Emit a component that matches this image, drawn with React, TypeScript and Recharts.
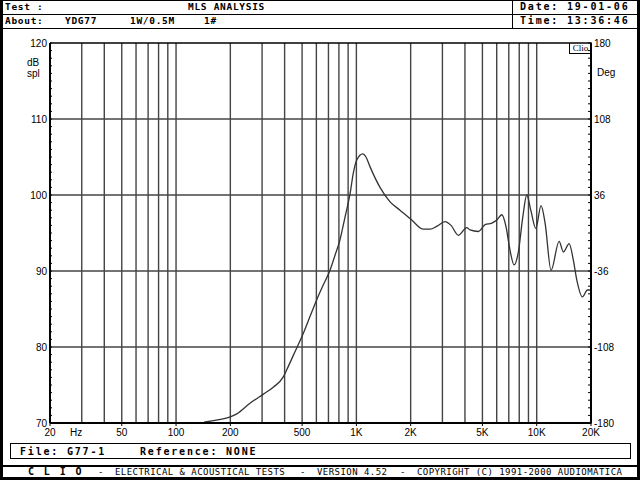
import React from 'react';
import { LineChart, Line, XAxis, YAxis, ReferenceLine } from 'recharts';

// response (Hz / dB spl)
const freqs = [
  143, 170, 200, 217, 257, 305, 346, 394, 411, 447, 508, 553, 602, 656, 714, 762, 811, 865, 923, 962,
  1005, 1085, 1130, 1191, 1352, 1538, 1746, 2028, 2351, 2564, 2800, 3104, 3350, 3680, 4094, 4268, 4751,
  5175, 5636, 6010, 6400, 6762, 7054, 7494, 7910, 8370, 8810, 9270, 9880, 10570, 11130, 12010, 13310,
  14060, 15130, 15970, 16690, 17920, 19100, 20000,
];
const spl = [
  70.1, 70.4, 70.8, 71.2, 72.6, 73.8, 74.7, 76.1, 77.0, 78.9, 81.8, 84.0, 86.2, 88.2, 90.1, 92.1, 94.1, 97.1, 100.2, 102.9,
  104.6, 105.4, 105.0, 103.7, 101.0, 99.1, 98.0, 96.7, 95.5, 95.5, 95.9, 96.5, 96.0, 94.7, 95.7, 95.4, 95.2,
  96.1, 96.3, 96.7, 97.4, 95.8, 93.2, 90.8, 92.5, 97.1, 100.0, 98.0, 95.6, 98.6, 96.3, 90.1, 93.9,
  92.5, 93.6, 91.4, 88.8, 86.6, 87.5, 87.5,
];

const gridFreqs = [
  30, 40, 50, 60, 70, 80, 90, 100, 200, 300, 400, 500, 600, 700, 800, 900,
  1000, 2000, 3000, 4000, 5000, 6000, 7000, 8000, 9000, 10000,
];
const labelFreqs = [20, 50, 100, 200, 500, 1000, 2000, 5000, 10000, 20000];
const labelTexts = ['20', '50', '100', '200', '500', '1K', '2K', '5K', '10K', '20K'];

const dbLabels = [70, 80, 90, 100, 110, 120];
const dbGrid = [80, 90, 100, 110];
const degLabels = [-180, -108, -36, 36, 108, 180];

const data = freqs.map((f, i) => ({ f, spl: spl[i] }));
const xTicks = [20, ...gridFreqs, 20000];
const dbTicks = Array.from({ length: 51 }, (_, i) => 70 + i);
const degTicks = Array.from({ length: 51 }, (_, i) => -180 + i * 7.2);

const axisFont = '"Liberation Sans", Arial, sans-serif';
const mono = '"DejaVu Sans Mono", monospace';

const XTick = (props: any) => {
  const { x, y, payload } = props;
  const idx = labelFreqs.indexOf(payload.value);
  if (idx < 0) return null;
  return (
    <g>
      <line x1={x} x2={x} y1={y} y2={y + 3} stroke="#000" strokeWidth={1} />
      <text x={x} y={y + 13} textAnchor="middle" fontSize={10} fontFamily={axisFont} fill="#000">
        {labelTexts[idx]}
      </text>
    </g>
  );
};

const LeftTick = (props: any) => {
  const { x, y, payload } = props;
  const lab = dbLabels.includes(payload.value);
  return (
    <g>
      <line x1={x} x2={x + 2} y1={y} y2={y} stroke="#000" strokeWidth={1} />
      {lab && (
        <text x={x - 3} y={y} dy="0.35em" textAnchor="end" fontSize={10} fontFamily={axisFont} fill="#000">
          {payload.value}
        </text>
      )}
    </g>
  );
};

const RightTick = (props: any) => {
  const { x, y, payload } = props;
  const v = Math.round(payload.value * 10) / 10;
  const lab = degLabels.includes(v);
  return (
    <g>
      <line x1={x - 3} x2={x + 1} y1={y} y2={y} stroke="#000" strokeWidth={1} />
      {lab && (
        <text x={x + 3} y={y} dy="0.35em" textAnchor="start" fontSize={10} fontFamily={axisFont} fill="#000">
          {v}
        </text>
      )}
    </g>
  );
};

const T = ({ x, y, size = 10, bold = false, font = mono, ls = 0, children }: any) => (
  <div
    style={{
      position: 'absolute', left: x, top: y, transform: 'translateY(-50%)',
      fontSize: size, fontWeight: bold ? 'bold' : 'normal', fontFamily: font,
      letterSpacing: ls, lineHeight: 1, whiteSpace: 'pre', color: '#000',
    }}
  >
    {children}
  </div>
);

const hLine = (top: number, left = 0, width = 640, h = 1) => (
  <div style={{ position: 'absolute', left, top, width, height: h, background: '#000' }} />
);

export default function App() {
  return (
    <div style={{ position: 'absolute', left: 0, top: 0, width: 640, height: 480, background: '#fff', overflow: 'hidden' }}>
      <LineChart width={640} height={480} data={data} margin={{ top: 43, right: 9, bottom: 37, left: 10 }}>
        <XAxis
          dataKey="f"
          type="number"
          scale="log"
          domain={[20, 20000]}
          ticks={xTicks}
          interval={0}
          tick={<XTick />}
          tickLine={false}
          tickSize={0}
          tickMargin={0}
          height={20}
          axisLine={{ stroke: '#000', strokeWidth: 2 }}
          allowDataOverflow
        />
        <YAxis
          yAxisId="db"
          orientation="left"
          type="number"
          domain={[70, 120]}
          ticks={dbTicks}
          interval={0}
          tick={<LeftTick />}
          tickLine={false}
          tickSize={0}
          tickMargin={0}
          width={40}
          axisLine={{ stroke: '#000', strokeWidth: 2 }}
          allowDataOverflow
        />
        <YAxis
          yAxisId="deg"
          orientation="right"
          type="number"
          domain={[-180, 180]}
          ticks={degTicks}
          interval={0}
          tick={<RightTick />}
          tickLine={false}
          tickSize={0}
          tickMargin={0}
          width={40}
          axisLine={{ stroke: '#000', strokeWidth: 2 }}
          allowDataOverflow
        />
        {gridFreqs.map((f) => (
          <ReferenceLine key={'v' + f} x={f} yAxisId="db" stroke="#444" strokeWidth={1.4} />
        ))}
        {dbGrid.map((d) => (
          <ReferenceLine key={'h' + d} y={d} yAxisId="db" stroke="#444" strokeWidth={1.4} />
        ))}
        <ReferenceLine y={120} yAxisId="db" stroke="#000" strokeWidth={1.5} />
        <Line
          yAxisId="db"
          dataKey="spl"
          type="monotone"
          stroke="#333"
          strokeWidth={1.3}
          dot={false}
          isAnimationActive={false}
        />
      </LineChart>

      {/* header */}
      {hLine(0)}
      {hLine(14)}
      {hLine(28)}
      <div style={{ position: 'absolute', left: 512, top: 0, width: 1, height: 28, background: '#000' }} />
      <T x={5} y={7} size={9.5} bold ls={0.7}>Test :</T>
      <T x={188} y={7} size={9.5} bold ls={0.7}>MLS ANALYSIS</T>
      <T x={520} y={7} size={10} bold ls={1.8}>Date: 19-01-06</T>
      <T x={5} y={21} size={9.5} bold ls={0.7}>About:</T>
      <T x={65} y={21} size={9.5} bold ls={0.7}>YDG77</T>
      <T x={130} y={21} size={9.5} bold ls={0.7}>1W/0.5M</T>
      <T x={204} y={21} size={9.5} bold ls={0.7}>1#</T>
      <T x={520} y={21} size={10} bold ls={1.8}>Time: 13:36:46</T>

      {/* axis captions */}
      <T x={27} y={63} font={axisFont}>dB</T>
      <T x={27} y={74} font={axisFont}>spl</T>
      <T x={597} y={73} font={axisFont}>Deg</T>
      <T x={70} y={433} font={axisFont}>Hz</T>
      <div
        style={{
          position: 'absolute', left: 569, top: 43, width: 21, height: 10,
          borderLeft: '1px solid #000', borderBottom: '1px solid #000',
          fontSize: 9, fontFamily: '"Liberation Serif", serif', lineHeight: '10px', textAlign: 'center',
        }}
      >
        Clio
      </div>

      {/* file box */}
      <div style={{ position: 'absolute', left: 10, top: 443, width: 619, height: 14, border: '1.5px solid #000' }} />
      <T x={20} y={452} size={10} bold ls={1.8}>File: G77-1</T>
      <T x={140} y={452} size={10} bold ls={1.8}>Reference: NONE</T>

      {/* footer */}
      {hLine(465, 0, 640, 1.5)}
      <T x={28} y={471.5} size={10} bold ls={1.9}>C L I O</T>
      <T x={98} y={471.5} size={9}>-</T>
      <T x={115} y={471.5} size={9} ls={0.45}>ELECTRICAL &amp; ACOUSTICAL TESTS</T>
      <T x={300} y={471.5} size={9}>-</T>
      <T x={317} y={471.5} size={9} ls={0.45}>VERSION 4.52</T>
      <T x={400} y={471.5} size={9}>-</T>
      <T x={417} y={471.5} size={9} ls={0.45}>COPYRIGHT (C) 1991-2000 AUDIOMATICA</T>

      {/* outer frame */}
      <div style={{ position: 'absolute', left: 0, top: 0, width: 3, height: 480, background: '#000' }} />
      <div style={{ position: 'absolute', left: 637, top: 0, width: 3, height: 480, background: '#000' }} />
      <div style={{ position: 'absolute', left: 0, top: 477, width: 640, height: 3, background: '#000' }} />
    </div>
  );
}
